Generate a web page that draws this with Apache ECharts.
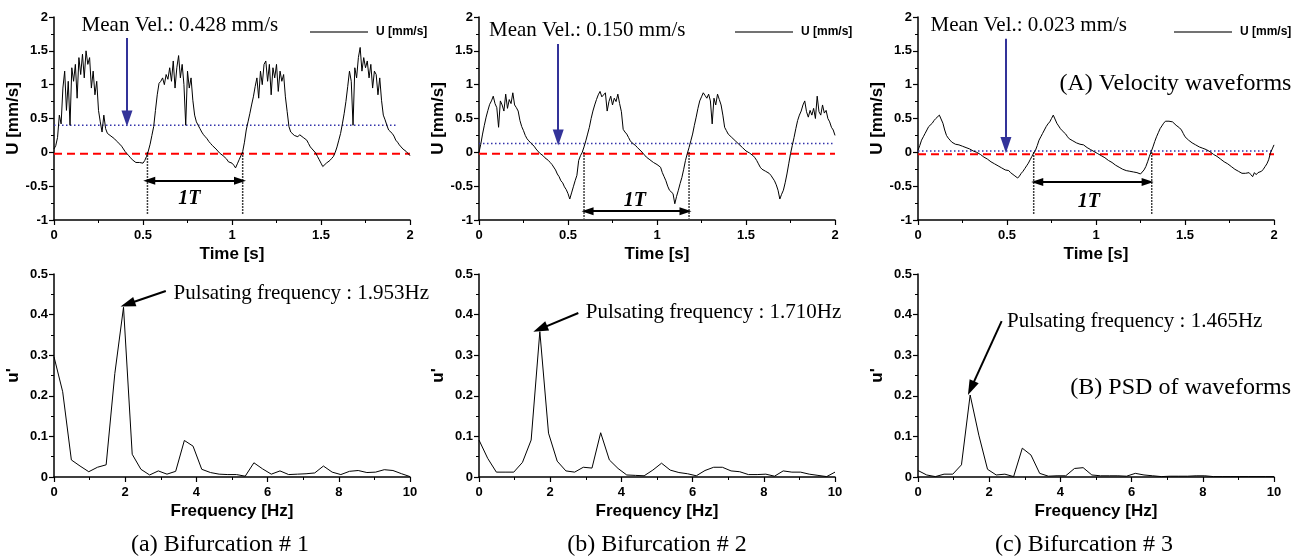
<!DOCTYPE html>
<html>
<head>
<meta charset="utf-8">
<script src="https://cdn.jsdelivr.net/npm/echarts@6/dist/echarts.min.js"></script>
<style>html,body{margin:0;padding:0;background:#fff;}#c{width:1304px;height:558px;}</style>
</head>
<body>
<div id="c"></div>
<script>
// ---------- DATA ----------
const TIME_STEP = 0.01; // sampling step of the waveforms [s]
const U1 = [
0.05,0.10,0.22,0.55,0.42,0.95,1.20,0.62,1.05,0.40,
1.25,1.05,1.30,0.80,1.40,1.15,1.45,1.10,1.50,1.30,
1.40,0.95,1.20,0.85,1.05,0.62,0.45,0.30,0.55,0.35,
0.28,0.27,0.24,0.22,0.20,0.17,0.15,0.12,0.09,0.05,
0.01,-0.02,-0.05,-0.08,-0.11,-0.13,-0.15,-0.16,-0.15,-0.17,
-0.16,-0.12,-0.06,0.02,0.12,0.25,0.38,0.62,0.85,1.02,
1.05,1.10,1.00,1.15,1.08,1.25,1.05,1.35,0.95,1.25,
1.43,1.10,1.30,1.00,0.40,1.20,0.95,1.10,0.77,0.55,
0.45,0.40,0.35,0.30,0.26,0.23,0.20,0.16,0.13,0.10,
0.08,0.05,0.02,-0.01,-0.03,-0.05,-0.06,-0.10,-0.14,-0.15,
-0.16,-0.19,-0.23,-0.17,-0.11,-0.05,0.01,0.15,0.33,0.45,
0.57,0.70,0.82,0.97,1.10,0.80,1.20,1.00,1.30,1.35,
1.05,1.30,0.85,1.25,1.10,1.30,0.90,1.20,1.05,1.15,
0.82,0.60,0.38,0.30,0.28,0.25,0.23,0.23,0.26,0.25,
0.22,0.20,0.18,0.13,0.08,0.05,0.02,-0.01,-0.06,-0.11,
-0.16,-0.21,-0.19,-0.16,-0.14,-0.12,-0.09,-0.06,0.00,0.08,
0.18,0.28,0.42,0.57,0.75,0.97,1.20,1.05,0.40,1.25,
1.10,1.40,1.55,1.20,1.40,1.25,1.35,1.10,1.30,0.95,
1.20,1.15,0.85,1.10,0.77,0.55,0.48,0.40,0.33,0.35,
0.28,0.24,0.18,0.15,0.11,0.08,0.05,0.03,0.01,-0.02,
-0.05];
const U2 = [
0.00,0.12,0.27,0.40,0.52,0.62,0.71,0.76,0.83,0.72,
0.66,0.37,0.76,0.70,0.61,0.86,0.65,0.78,0.72,0.88,
0.70,0.66,0.61,0.47,0.38,0.32,0.25,0.20,0.17,0.14,
0.12,0.09,0.05,0.02,-0.01,-0.03,-0.05,-0.08,-0.10,-0.12,
-0.15,-0.18,-0.20,-0.26,-0.32,-0.36,-0.42,-0.45,-0.51,-0.55,
-0.61,-0.69,-0.60,-0.51,-0.42,-0.34,-0.12,-0.05,0.00,0.08,
0.17,0.27,0.37,0.50,0.61,0.70,0.78,0.85,0.90,0.82,
0.81,0.88,0.61,0.75,0.83,0.70,0.80,0.75,0.86,0.72,
0.60,0.34,0.30,0.27,0.22,0.17,0.14,0.12,0.10,0.07,
0.05,0.02,-0.01,-0.04,-0.07,-0.09,-0.11,-0.13,-0.15,-0.16,
-0.18,-0.20,-0.22,-0.30,-0.36,-0.42,-0.50,-0.56,-0.58,-0.61,
-0.76,-0.65,-0.56,-0.46,-0.37,-0.25,-0.12,-0.02,0.07,0.17,
0.27,0.40,0.52,0.65,0.76,0.82,0.88,0.84,0.80,0.86,
0.76,0.42,0.80,0.70,0.86,0.78,0.70,0.55,0.37,0.32,
0.27,0.25,0.22,0.20,0.17,0.15,0.12,0.10,0.07,0.05,
0.02,0.01,-0.01,-0.02,-0.05,-0.08,-0.12,-0.17,-0.22,-0.25,
-0.27,-0.28,-0.29,-0.31,-0.34,-0.38,-0.42,-0.48,-0.56,-0.69,
-0.62,-0.56,-0.45,-0.32,-0.17,-0.02,0.10,0.22,0.35,0.47,
0.55,0.61,0.70,0.76,0.60,0.52,0.62,0.55,0.65,0.50,
0.83,0.60,0.55,0.70,0.58,0.62,0.50,0.45,0.37,0.33,
0.25];
const U3 = [
0.03,0.10,0.18,0.23,0.28,0.33,0.38,0.40,0.43,0.47,
0.50,0.52,0.55,0.53,0.43,0.33,0.25,0.21,0.18,0.15,
0.13,0.12,0.12,0.11,0.10,0.09,0.08,0.07,0.06,0.05,
0.03,0.02,0.01,0.00,-0.01,-0.03,-0.05,-0.07,-0.09,-0.10,
-0.12,-0.14,-0.16,-0.17,-0.19,-0.20,-0.21,-0.23,-0.25,-0.26,
-0.28,-0.27,-0.30,-0.31,-0.34,-0.33,-0.38,-0.35,-0.31,-0.28,
-0.24,-0.20,-0.16,-0.11,-0.06,-0.01,0.03,0.10,0.18,0.23,
0.28,0.33,0.38,0.42,0.45,0.50,0.55,0.53,0.43,0.39,
0.35,0.32,0.30,0.27,0.23,0.20,0.18,0.17,0.16,0.14,
0.13,0.12,0.12,0.11,0.09,0.07,0.06,0.04,0.02,0.01,
-0.01,-0.02,-0.04,-0.05,-0.06,-0.08,-0.10,-0.12,-0.14,-0.15,
-0.17,-0.19,-0.21,-0.22,-0.24,-0.25,-0.26,-0.27,-0.27,-0.28,
-0.28,-0.29,-0.30,-0.30,-0.31,-0.32,-0.31,-0.26,-0.21,-0.14,
-0.06,0.01,0.08,0.16,0.23,0.29,0.35,0.39,0.43,0.46,
0.48,0.46,0.47,0.45,0.43,0.40,0.38,0.36,0.33,0.28,
0.23,0.21,0.18,0.16,0.14,0.12,0.11,0.10,0.08,0.07,
0.06,0.05,0.04,0.02,0.01,-0.01,-0.03,-0.05,-0.06,-0.08,
-0.10,-0.12,-0.14,-0.16,-0.17,-0.19,-0.21,-0.23,-0.25,-0.26,
-0.28,-0.29,-0.31,-0.30,-0.31,-0.33,-0.30,-0.33,-0.36,-0.30,
-0.33,-0.30,-0.28,-0.28,-0.25,-0.21,-0.17,-0.11,-0.01,0.05,
0.11];

const FREQ = [0,0.244,0.488,0.732,0.977,1.221,1.465,1.709,1.953,2.197,2.441,2.686,2.930,3.174,3.418,3.662,3.906,4.150,4.395,4.639,4.883,5.127,5.371,5.615,5.859,6.104,6.348,6.592,6.836,7.080,7.324,7.568,7.813,8.057,8.301,8.545,8.789,9.033,9.277,9.521,9.766,10.0];
const PSD1 = [0.296,0.21,0.042,0.027,0.013,0.024,0.030,0.255,0.418,0.056,0.019,0.005,0.015,0.007,0.014,0.090,0.076,0.019,0.011,0.007,0.006,0.006,0.002,0.035,0.020,0.007,0.015,0.006,0.007,0.008,0.010,0.027,0.012,0.006,0.014,0.016,0.011,0.012,0.018,0.016,0.008,0.001];
const PSD2 = [0.091,0.046,0.012,0.012,0.012,0.036,0.091,0.358,0.108,0.039,0.015,0.012,0.024,0.022,0.109,0.042,0.021,0.005,0.004,0.003,0.017,0.034,0.017,0.011,0.008,0.003,0.016,0.024,0.024,0.015,0.013,0.006,0.006,0.007,0.002,0.015,0.012,0.012,0.007,0.004,0.001,0.012];
const PSD3 = [0.016,0.005,0.001,0.007,0.007,0.030,0.202,0.103,0.019,0.005,0.007,0.001,0.071,0.054,0.009,0.002,0.003,0.003,0.021,0.023,0.005,0.003,0.003,0.003,0.002,0.009,0.005,0.003,0.001,0.002,0.002,0.002,0.003,0.003,0.001,0.001,0.001,0.001,0.001,0.001,0.001,0.001];

const MEAN_TEXT = ['Mean Vel.: 0.428 mm/s','Mean Vel.: 0.150 mm/s','Mean Vel.: 0.023 mm/s'];
const MEAN_LEVEL = [0.40, 0.13, 0.02];
const MEAN_END = [1.93, 2, 2];
const ZERO_LEVEL = [-0.02, -0.02, -0.03];
const PERIOD_MARKS = [[0.525,1.06],[0.59,1.18],[0.65,1.313]];
const PERIOD_BOTTOM = [-0.93,-0.98,-0.92];
const PERIOD_ARROW = [[0.535,1.045,-0.42],[0.61,1.16,-0.87],[0.67,1.29,-0.44]];
const T_LABEL = [[0.76,-0.68],[0.875,-0.71],[0.96,-0.73]];
const MEAN_ARROW = [[0.41,1.69,0.50],[0.445,1.60,0.22],[0.494,1.68,0.11]];
const MEAN_TEXT_POS = [[0.155,1.88],[0.056,1.80],[0.07,1.87]];
const PULSE_TEXT = ['Pulsating frequency : 1.953Hz','Pulsating frequency : 1.710Hz','Pulsating frequency : 1.465Hz'];
const PULSE_TEXT_POS = [[3.36,0.453],[3.0,0.404],[2.5,0.384]];
const PULSE_ARROW = [[3.14,0.458,2.07,0.426],[2.79,0.404,1.72,0.365],[2.35,0.384,1.49,0.219]];
const CAPTIONS = ['(a) Bifurcation # 1','(b) Bifurcation # 2','(c) Bifurcation # 3'];
const TIME_TICKS = {min:0,max:2,interval:0.5};
const U_TICKS = {min:-1,max:2,interval:0.5};
const F_TICKS = {min:0,max:10,interval:2};
const P_TICKS = {min:0,max:0.5,interval:0.1};

// ---------- LAYOUT ----------
const LEFTS = [54, 479, 918];
const WIDTH = 356;
const CAPTION_X = [220, 657, 1084];
const SANS = 'Liberation Sans, Arial, sans-serif';
const SERIF = 'Liberation Serif, Times New Roman, serif';

const chart = echarts.init(document.getElementById('c'), null, {renderer:'canvas'});
const U_ALL = [U1,U2,U3];
const PSD_ALL = [PSD1,PSD2,PSD3];

const grids = [], xAxes = [], yAxes = [], series = [], legends = [], graphics = [];

function axisBase(ticks, name, gap){
  return Object.assign({
    type:'value', name:name, nameLocation:'middle', nameGap:gap,
    nameTextStyle:{fontFamily:SANS, fontWeight:'bold', fontSize:17, color:'#000'},
    axisLine:{show:true, onZero:false, lineStyle:{color:'#000', width:1.5}},
    axisTick:{show:true, inside:false, length:5, lineStyle:{color:'#000', width:1.2}},
    minorTick:{show:true, splitNumber:2, length:3, lineStyle:{color:'#000', width:1}},
    axisLabel:{fontFamily:SANS, fontWeight:'bold', fontSize:13, color:'#000', margin:6},
    splitLine:{show:false}, minorSplitLine:{show:false}
  }, ticks);
}
function textSeries(xi, pos, text, style, align){
  return {type:'scatter', xAxisIndex:xi, yAxisIndex:xi, silent:true, symbolSize:0,
    itemStyle:{color:'#000'}, data:[pos], z:20,
    label:{show:true, formatter:text, position: align==='center'?'inside':'right', distance:0,
      align: align==='center'?'center':'left', verticalAlign:'middle', textBorderWidth:0, opacity:1, ...style}};
}
function seg(xi, pts, lineStyle, z){
  return {type:'line', xAxisIndex:xi, yAxisIndex:xi, silent:true, symbol:'none', data:pts,
    lineStyle:lineStyle, z:z||3};
}

for(let i=0;i<3;i++){
  // top: velocity waveform
  grids.push({left:LEFTS[i], width:WIDTH, top:17, height:203});
  const xa = axisBase(Object.assign({gridIndex:i}, TIME_TICKS), 'Time [s]', 26);
  xa.axisLabel.margin = 9;
  xAxes.push(xa);
  yAxes.push(axisBase(Object.assign({gridIndex:i}, U_TICKS), 'U [mm/s]', 32));
  const u = U_ALL[i];
  const pts = u.map((v,k)=>[Math.round(k*TIME_STEP*100)/100, v]);
  series.push({type:'line', name:'U [mm/s]', xAxisIndex:i, yAxisIndex:i, data:pts, symbol:'none', showSymbol:false,
    itemStyle:{color:'#000'}, lineStyle:{color:'#000', width:1}, z:5, silent:true,
    markLine:{silent:true, animation:false, label:{show:false}, emphasis:{disabled:true},
      data:[
        [{coord:[PERIOD_ARROW[i][0],PERIOD_ARROW[i][2]], symbol:'triangle', symbolSize:[8,12], lineStyle:{color:'#000',width:2,type:'solid'}},
         {coord:[PERIOD_ARROW[i][1],PERIOD_ARROW[i][2]], symbol:'triangle', symbolSize:[8,12]}],
        [{coord:[MEAN_ARROW[i][0],MEAN_ARROW[i][1]], symbol:'none', lineStyle:{color:'#333399',width:2,type:'solid'}},
         {coord:[MEAN_ARROW[i][0],MEAN_ARROW[i][2]], symbol:'triangle', symbolSize:[11,16]}]
      ]}});
  series.push(seg(i, [[0,MEAN_LEVEL[i]],[MEAN_END[i],MEAN_LEVEL[i]]], {color:'#3333aa', width:1.5, type:[1.5,2.5]}));
  series.push(seg(i, [[0,ZERO_LEVEL[i]],[2,ZERO_LEVEL[i]]], {color:'#ff0000', width:2, type:[8,5]}));
  PERIOD_MARKS[i].forEach(tm=>{
    series.push(seg(i, [[tm,0],[tm,PERIOD_BOTTOM[i]]], {color:'#000', width:1.5, type:[1.5,1.5]}));
  });
  series.push(textSeries(i, MEAN_TEXT_POS[i], MEAN_TEXT[i], {fontFamily:SERIF, fontSize:21, color:'#000'}));
  series.push(textSeries(i, T_LABEL[i], '1T', {fontFamily:SERIF, fontSize:20, fontWeight:'bold', fontStyle:'italic', color:'#000'}, 'center'));
  legends.push({left:LEFTS[i]+251, top:21, data:[{name:'U [mm/s]', icon:'rect'}], itemWidth:58, itemHeight:1.5,
    selectedMode:false, itemStyle:{color:'#444', borderWidth:0},
    textStyle:{fontFamily:SANS, fontWeight:'bold', fontSize:12, color:'#000', padding:[0,0,0,3]}});
}
// extra text in panel 3
series.push(textSeries(2, [0.795,1.01], '(A) Velocity waveforms', {fontFamily:SERIF, fontSize:24, color:'#000'}));

for(let i=0;i<3;i++){
  const gi = i+3;
  grids.push({left:LEFTS[i], width:WIDTH, top:274, height:203});
  const xa = axisBase(Object.assign({gridIndex:gi}, F_TICKS), 'Frequency [Hz]', 26);
  xa.axisLabel.margin = 9;
  xAxes.push(xa);
  yAxes.push(axisBase(Object.assign({gridIndex:gi}, P_TICKS), "u'", 32));
  const pts = FREQ.map((f,k)=>[f, PSD_ALL[i][k]]);
  const a = PULSE_ARROW[i];
  series.push({type:'line', name:'psd'+i, xAxisIndex:gi, yAxisIndex:gi, data:pts, symbol:'none', showSymbol:false,
    itemStyle:{color:'#000'}, lineStyle:{color:'#000', width:1}, z:5, silent:true,
    markLine:{silent:true, animation:false, label:{show:false}, emphasis:{disabled:true},
      data:[[{coord:[a[0],a[1]], symbol:'none', lineStyle:{color:'#000',width:2,type:'solid'}},
             {coord:[a[2],a[3]], symbol:'triangle', symbolSize:[10,15]}]]}});
  series.push(textSeries(gi, PULSE_TEXT_POS[i], PULSE_TEXT[i], {fontFamily:SERIF, fontSize:21, color:'#000'}));
  graphics.push({type:'text', x:CAPTION_X[i], y:545, style:{text:CAPTIONS[i], font:'24px '+SERIF, fill:'#000', align:'center', verticalAlign:'middle'}});
}
series.push(textSeries(5, [4.28,0.219], '(B) PSD of waveforms', {fontFamily:SERIF, fontSize:24, color:'#000'}));

const option = {
  animation:false,
  backgroundColor:'#fff',
  grid:grids, xAxis:xAxes, yAxis:yAxes, series:series, legend:legends,
  graphic:graphics
};
chart.setOption(option);
</script>
</body>
</html>
